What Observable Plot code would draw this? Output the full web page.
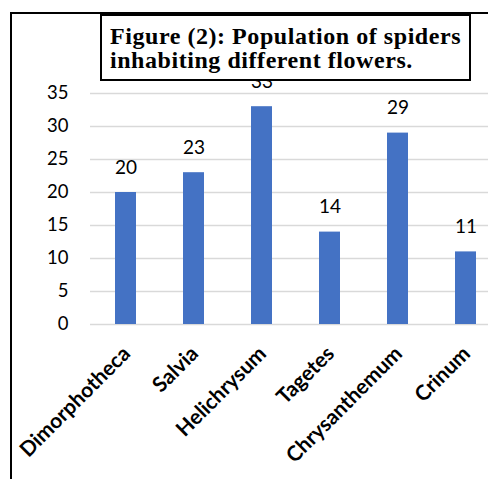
<!DOCTYPE html>
<html>
<head>
<meta charset="utf-8">
<script src="https://cdn.jsdelivr.net/npm/d3@7"></script>
<script src="https://cdn.jsdelivr.net/npm/@observablehq/plot@0.6"></script>
<style>
  html, body { margin: 0; padding: 0; background: #fff; overflow: hidden; }
  #chart { position: relative; width: 488px; height: 479px; }
  #chart svg { position: absolute; left: 0; top: 0; }
  .frame { position: absolute; left: 10px; top: 12px; right: 0; bottom: 0;
           border-left: 2px solid #000; border-top: 2px solid #000; }
  .title { position: absolute; left: 100px; top: 14px; width: 371px; height: 67px;
           box-sizing: border-box; border: 2px solid #000; background: #fff;
           font-family: "Liberation Serif", "Times New Roman", serif; font-weight: bold;
           font-size: 24px; letter-spacing: 0.55px; line-height: 24px; color: #000;
           padding: 8px 0 0 8px; white-space: nowrap; }
</style>
</head>
<body>
<div id="chart"></div>
<script>
// Spider counts per host flower
const flowers = ["Dimorphotheca", "Salvia", "Helichrysum", "Tagetes", "Chrysanthemum", "Crinum"];
const spiders = [20, 23, 33, 14, 29, 11];
const yTicks = [0, 5, 10, 15, 20, 25, 30, 35];
const titleLines = ["Figure (2): Population of spiders", "inhabiting different flowers."];

const rows = flowers.map((f, i) => ({flower: f, count: spiders[i]}));

const plot = Plot.plot({
  width: 488,
  height: 479,
  marginLeft: 90,
  marginRight: 0,
  style: {fontFamily: "Lato, 'Open Sans', sans-serif", background: "transparent"},
  x: {domain: flowers, range: [90.5, 501], paddingInner: 0.69, paddingOuter: 0.345, axis: null},
  y: {domain: [0, 35], range: [324, 93], axis: null},
  marks: [
    Plot.ruleY(yTicks, {stroke: "#d9d9d9", strokeWidth: 1.5}),
    Plot.text(yTicks, {frameAnchor: "left", y: d => d, text: d => String(d),
      textAnchor: "end", dx: -22, fontSize: 18.5, fill: "#000"}),
    Plot.barY(rows, {x: "flower", y: "count", fill: "#4472C4"}),
    Plot.text(rows, {x: "flower", y: "count", text: d => String(d.count), dy: -25,
      fontSize: 19, fill: "#000"}),
    Plot.text(rows, {x: "flower", y: () => 0, text: "flower", rotate: -45, textAnchor: "end",
      lineAnchor: "top", dx: -5, dy: 20, fontSize: 21, fontWeight: "bold", fill: "#000"})
  ]
});

const chart = document.getElementById("chart");
chart.appendChild(plot);

const frame = document.createElement("div");
frame.className = "frame";
chart.appendChild(frame);

const title = document.createElement("div");
title.className = "title";
title.innerHTML = titleLines.join("<br>");
chart.appendChild(title);
</script>
</body>
</html>
